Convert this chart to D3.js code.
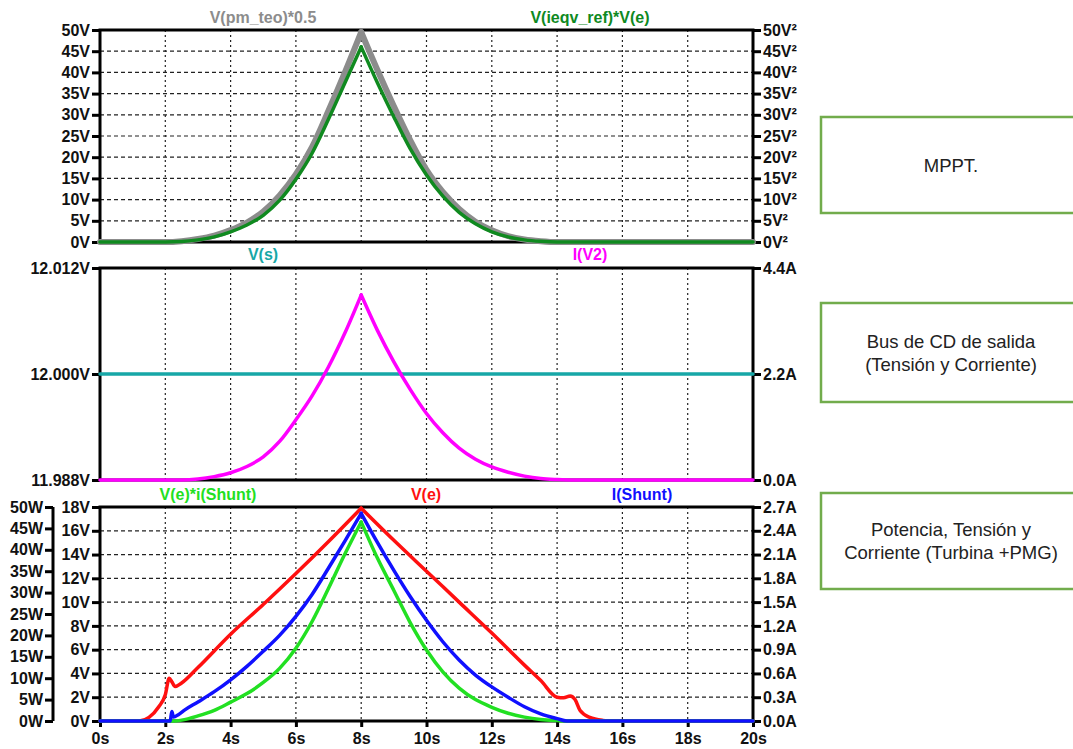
<!DOCTYPE html>
<html>
<head>
<meta charset="utf-8">
<script src="https://cdn.jsdelivr.net/npm/d3@7"></script>
<style>
  body { margin: 0; background: #fff; }
  svg { display: block; font-family: "Liberation Sans", Arial, sans-serif; }
</style>
</head>
<body>
<svg id="chart" width="1073" height="749"></svg>
<script>
// ---- time axis ----
const timeTicks = [0, 2, 4, 6, 8, 10, 12, 14, 16, 18, 20];

// ---- panel 1: MPPT ----
const mpptLeftTicks = [0, 5, 10, 15, 20, 25, 30, 35, 40, 45, 50];
const pmTeoT = [0, 2, 2.5, 3, 3.5, 4, 4.5, 5, 5.5, 6, 6.5, 7, 7.5, 8, 8.5, 9, 9.5, 10, 10.5, 11, 11.5, 12, 12.5, 13, 13.5, 14, 20];
const pmTeoV = [0, 0, 0.2, 0.7, 1.5, 2.8, 4.6, 7.2, 11, 16, 22.5, 31, 40, 49.5, 40.5, 32, 24, 17, 11.8, 7.8, 4.8, 2.8, 1.4, 0.6, 0.2, 0, 0];
const ieqvT = [0, 2, 2.5, 3, 3.5, 4, 4.5, 5, 5.5, 6, 6.5, 7, 7.5, 8, 8.5, 9, 9.5, 10, 10.5, 11, 11.5, 12, 12.5, 13, 13.5, 14, 20];
const ieqvV = [0, 0, 0.1, 0.5, 1.2, 2.4, 4, 6.3, 9.8, 14.8, 21, 29, 37.5, 46, 37.5, 29.5, 22, 15.8, 10.8, 7, 4.3, 2.4, 1.2, 0.5, 0.15, 0, 0];

// ---- panel 2: output DC bus ----
const busLeftTicks = [11.988, 12.000, 12.012];
const busRightTicks = [0, 2.2, 4.4];
const vsT = [0, 20];
const vsV = [12.000, 12.000];
const iV2T = [0, 2.5, 3, 3.5, 4, 4.5, 5, 5.5, 6, 6.5, 7, 7.5, 8, 8.5, 9, 9.5, 10, 10.5, 11, 11.5, 12, 12.5, 13, 13.5, 14, 14.5, 20];
const iV2V = [0, 0, 0.02, 0.07, 0.15, 0.28, 0.48, 0.8, 1.25, 1.75, 2.35, 3.05, 3.84, 3.1, 2.45, 1.88, 1.38, 0.98, 0.66, 0.43, 0.27, 0.16, 0.08, 0.03, 0.01, 0, 0];

// ---- panel 3: turbine + PMG ----
const powerTicks = [0, 5, 10, 15, 20, 25, 30, 35, 40, 45, 50];
const voltTicks = [0, 2, 4, 6, 8, 10, 12, 14, 16, 18];
const ampTicks = [0, 0.3, 0.6, 0.9, 1.2, 1.5, 1.8, 2.1, 2.4, 2.7];
const veT = [0, 1.2, 1.5, 1.8, 2.0, 2.12, 2.2, 2.3, 2.5, 3, 4, 5, 6, 7, 8, 9, 10, 11, 12, 13, 13.5, 14, 14.2, 14.4, 14.55, 14.7, 15.0, 15.4, 15.7, 20];
const veV = [0, 0, 0.3, 1.2, 2.2, 3.6, 3.3, 2.9, 3.2, 4.5, 7.3, 9.8, 12.4, 15.1, 17.9, 15.2, 12.6, 10.0, 7.4, 4.7, 3.4, 2.0, 1.95, 2.1, 1.8, 0.9, 0.3, 0.05, 0, 0];
const ishT = [0, 2.15, 2.2, 2.25, 2.4, 2.6, 3, 3.5, 4, 4.5, 5, 5.5, 6, 6.5, 7, 7.5, 8, 8.5, 9, 9.5, 10, 10.5, 11, 11.5, 12, 12.5, 13, 13.5, 14, 14.3, 20];
const ishV = [0, 0, 0.12, 0.05, 0.08, 0.14, 0.24, 0.37, 0.52, 0.69, 0.88, 1.08, 1.32, 1.6, 1.93, 2.27, 2.62, 2.25, 1.9, 1.57, 1.27, 1.0, 0.77, 0.58, 0.43, 0.3, 0.18, 0.09, 0.03, 0, 0];
const pwrT = [0, 2.3, 2.5, 3, 3.5, 4, 4.5, 5, 5.5, 6, 6.5, 7, 7.5, 8, 8.5, 9, 9.5, 10, 10.5, 11, 11.5, 12, 12.5, 13, 13.5, 14, 14.3, 20];
const pwrV = [0, 0, 0.2, 1.2, 2.5, 4.4, 6.4, 9, 12.3, 17, 23.3, 31, 39, 46.5, 38, 30.5, 23, 16.6, 11.5, 7.7, 5, 3.2, 1.8, 0.9, 0.35, 0.1, 0, 0];

// ---- side notes ----
const notes = [
  ["MPPT."],
  ["Bus de CD de salida", "(Tensión y Corriente)"],
  ["Potencia, Tensión y", "Corriente (Turbina +PMG)"]
];

const svg = d3.select("#chart");
const X0 = 100, X1 = 753;
const x = d3.scaleLinear().domain([0, 20]).range([X0, X1]);

const panels = [
  { top: 30, bottom: 242 },
  { top: 268, bottom: 480 },
  { top: 507, bottom: 721 }
];

function styleAxis(g) {
  g.select(".domain").remove();
  g.selectAll(".tick line").attr("stroke", "#000").attr("stroke-width", 3);
  g.selectAll(".tick text")
    .attr("font-size", 16)
    .attr("font-weight", "bold")
    .attr("fill", "#111")
    .attr("font-family", "'Liberation Sans', Arial, sans-serif");
}

function grid(p, yScale, hTicks) {
  const g = svg.append("g");
  g.selectAll("line.v").data(timeTicks.slice(1, -1)).join("line")
    .attr("x1", d => x(d)).attr("x2", d => x(d))
    .attr("y1", p.top).attr("y2", p.bottom)
    .attr("stroke", "#222").attr("stroke-width", 1.2)
    .attr("stroke-dasharray", "2,3");
  if (hTicks) {
    g.selectAll("line.h").data(hTicks.slice(1, -1)).join("line")
      .attr("x1", X0).attr("x2", X1)
      .attr("y1", d => yScale(d)).attr("y2", d => yScale(d))
      .attr("stroke", "#222").attr("stroke-width", 1.2)
      .attr("stroke-dasharray", "4,3");
  }
}

function frame(p) {
  svg.append("rect")
    .attr("x", X0).attr("y", p.top)
    .attr("width", X1 - X0).attr("height", p.bottom - p.top)
    .attr("fill", "none").attr("stroke", "#000").attr("stroke-width", 3);
}

function leftAxis(scale, ticks, fmt, xpos) {
  svg.append("g").attr("transform", `translate(${xpos},0)`)
    .call(d3.axisLeft(scale).tickValues(ticks).tickFormat(fmt).tickSize(8).tickPadding(2))
    .call(styleAxis);
}
function rightAxis(scale, ticks, fmt) {
  svg.append("g").attr("transform", `translate(${X1},0)`)
    .call(d3.axisRight(scale).tickValues(ticks).tickFormat(fmt).tickSize(8).tickPadding(2))
    .call(styleAxis);
}

// Draw a trace; split at its maximum so the apex keeps its sharp corner.
function trace(T, V, yScale, color, width) {
  const pts = T.map((t, i) => [t, V[i]]);
  const k = d3.maxIndex(V);
  const parts = (k > 0 && k < pts.length - 1) ? [pts.slice(0, k + 1), pts.slice(k)] : [pts];
  const line = d3.line().x(d => x(d[0])).y(d => yScale(d[1])).curve(d3.curveMonotoneX);
  parts.forEach(part => {
    svg.append("path").attr("d", line(part))
      .attr("fill", "none").attr("stroke", color)
      .attr("stroke-width", width)
      .attr("stroke-linejoin", "round").attr("stroke-linecap", "round");
  });
}

function title(txt, cx, y, color) {
  svg.append("text").attr("x", cx).attr("y", y)
    .attr("text-anchor", "middle")
    .attr("font-size", 16).attr("font-weight", "bold")
    .attr("fill", color).text(txt);
}

// ===== Panel 1 =====
const p1 = panels[0];
const y1L = d3.scaleLinear().domain([0, 50]).range([p1.bottom, p1.top]);
grid(p1, y1L, mpptLeftTicks);
frame(p1);
leftAxis(y1L, mpptLeftTicks, d => d + "V", X0);
rightAxis(y1L, mpptLeftTicks, d => d + "V²");
trace(pmTeoT, pmTeoV, y1L, "#8c8c8c", 6);
trace(ieqvT, ieqvV, y1L, "#0f8a1f", 3.5);
title("V(pm_teo)*0.5", 263, 23, "#8c8c8c");
title("V(ieqv_ref)*V(e)", 590, 23, "#0f8a1f");

// ===== Panel 2 =====
const p2 = panels[1];
const y2L = d3.scaleLinear().domain([11.988, 12.012]).range([p2.bottom, p2.top]);
const y2R = d3.scaleLinear().domain([0, 4.4]).range([p2.bottom, p2.top]);
grid(p2, null, null);
frame(p2);
leftAxis(y2L, busLeftTicks, d => d3.format(".3f")(d) + "V", X0);
rightAxis(y2R, busRightTicks, d => d3.format(".1f")(d) + "A");
trace(vsT, vsV, y2L, "#17a7a7", 3.5);
trace(iV2T, iV2V, y2R, "#ff00ff", 3.5);
title("V(s)", 263, 260, "#17a7a7");
title("I(V2)", 590, 260, "#ff00ff");

// ===== Panel 3 =====
const p3 = panels[2];
const y3V = d3.scaleLinear().domain([0, 18]).range([p3.bottom, p3.top]);
const y3W = d3.scaleLinear().domain([0, 50]).range([p3.bottom, p3.top]);
const y3A = d3.scaleLinear().domain([0, 2.7]).range([p3.bottom, p3.top]);
grid(p3, y3V, voltTicks);
frame(p3);
leftAxis(y3V, voltTicks, d => d + "V", X0);
leftAxis(y3W, powerTicks, d => d + "W", 53);
svg.append("line").attr("x1", 53).attr("x2", 53)
  .attr("y1", p3.top).attr("y2", p3.bottom)
  .attr("stroke", "#000").attr("stroke-width", 3);
rightAxis(y3A, ampTicks, d => d3.format(".1f")(d) + "A");
svg.append("g").attr("transform", `translate(0,${p3.bottom})`)
  .call(d3.axisBottom(x).tickValues(timeTicks).tickFormat(d => d + "s").tickSize(6).tickPadding(6))
  .call(styleAxis);
trace(veT, veV, y3V, "#ff1010", 3.5);
trace(pwrT, pwrV, y3W, "#22e022", 3.5);
trace(ishT, ishV, y3A, "#1010ff", 3.5);
title("V(e)*i(Shunt)", 208, 500, "#22e022");
title("V(e)", 426, 500, "#ff1010");
title("I(Shunt)", 642, 500, "#1010ff");

// ===== side notes =====
const boxes = [
  { y: 117, h: 96 },
  { y: 303, h: 99 },
  { y: 493, h: 96 }
];
boxes.forEach((b, i) => {
  svg.append("rect").attr("x", 821).attr("y", b.y)
    .attr("width", 262).attr("height", b.h)
    .attr("fill", "#fff").attr("stroke", "#72ac4c").attr("stroke-width", 2.5);
  const lines = notes[i];
  const lh = 23;
  const cy = b.y + b.h / 2;
  lines.forEach((ln, j) => {
    svg.append("text")
      .attr("x", 951)
      .attr("y", cy + (j - (lines.length - 1) / 2) * lh)
      .attr("dy", "0.36em")
      .attr("text-anchor", "middle")
      .attr("font-size", 18.5)
      .attr("fill", "#222")
      .attr("font-family", "'Liberation Sans', Arial, sans-serif")
      .text(ln);
  });
});
</script>
</body>
</html>
